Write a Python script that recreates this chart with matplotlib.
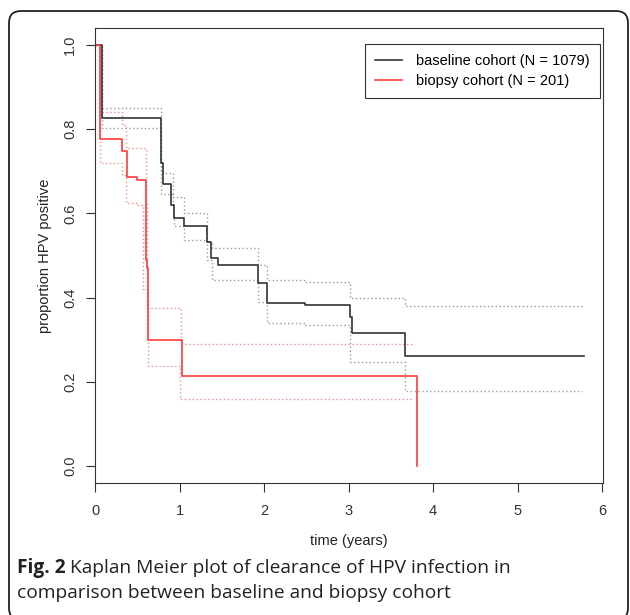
import matplotlib.pyplot as plt
from matplotlib.patches import FancyBboxPatch

# Kaplan-Meier estimates (time in years, proportion)
base_t = [0, 0.08, 0.776, 0.80, 0.905, 0.93, 1.05, 1.32, 1.378, 1.457, 1.93, 2.03, 2.48, 3.02, 3.035, 3.67, 5.78]
base_s = [1.0, 0.827, 0.72, 0.669, 0.62, 0.588, 0.569, 0.533, 0.494, 0.478, 0.435, 0.388, 0.382, 0.355, 0.317, 0.262, 0.262]

base_up_t = [0, 0.08, 0.776, 0.80, 0.92, 1.05, 1.32, 1.38, 1.93, 2.03, 2.48, 3.02, 3.67, 5.76]
base_up_s = [1.0, 0.85, 0.70, 0.695, 0.64, 0.60, 0.533, 0.518, 0.478, 0.443, 0.437, 0.40, 0.38, 0.38]
base_lo_t = [0, 0.08, 0.776, 0.92, 0.94, 1.05, 1.32, 1.38, 1.93, 2.03, 2.48, 3.02, 3.67, 5.76]
base_lo_s = [1.0, 0.803, 0.647, 0.60, 0.569, 0.537, 0.49, 0.441, 0.39, 0.34, 0.335, 0.248, 0.178, 0.178]

biop_t = [0, 0.06, 0.32, 0.38, 0.50, 0.60, 0.62, 0.63, 1.035, 3.81]
biop_s = [1.0, 0.777, 0.747, 0.687, 0.68, 0.49, 0.47, 0.299, 0.214, 0.0]

biop_up_t = [0, 0.06, 0.32, 0.37, 0.60, 0.62, 1.02, 3.76]
biop_up_s = [1.0, 0.84, 0.81, 0.755, 0.63, 0.376, 0.29, 0.29]
biop_lo_t = [0, 0.06, 0.32, 0.37, 0.50, 0.57, 0.63, 1.01, 3.76]
biop_lo_s = [1.0, 0.72, 0.69, 0.624, 0.62, 0.42, 0.238, 0.159, 0.159]

labels = ['baseline cohort (N = 1079)', 'biopsy cohort (N = 201)']
x_ticks = [0, 1, 2, 3, 4, 5, 6]
y_ticks = [0.0, 0.2, 0.4, 0.6, 0.8, 1.0]

plt.rcParams['font.family'] = ['Liberation Sans', 'DejaVu Sans']

fig = plt.figure(figsize=(6.3, 6.15), dpi=100)
ax = fig.add_axes([95 / 630, 1 - 483 / 615, 508 / 630, 455 / 615])

dark = '#333333'
red = '#ff3b3b'
fs = 10.5

# confidence bands first, dotted
ax.step(base_up_t, base_up_s, where='post', color='#9a9a9a', lw=1.0, ls=(0, (1, 1.8)))
ax.step(base_lo_t, base_lo_s, where='post', color='#9a9a9a', lw=1.0, ls=(0, (1, 1.8)))
ax.step(biop_up_t, biop_up_s, where='post', color='#ff8a8a', lw=1.0, ls=(0, (1, 1.8)))
ax.step(biop_lo_t, biop_lo_s, where='post', color='#ff8a8a', lw=1.0, ls=(0, (1, 1.8)))

ax.step(base_t, base_s, where='post', color=dark, lw=1.2, label=labels[0])
ax.step(biop_t, biop_s, where='post', color=red, lw=1.2, label=labels[1])

ax.set_xlim(0, 6.01)
ax.set_ylim(-0.04, 1.04)
ax.set_xticks(x_ticks)
ax.set_xticklabels([str(v) for v in x_ticks])
ax.set_yticks(y_ticks)
ax.set_yticklabels(['%.1f' % v for v in y_ticks], rotation=90, va='center')

ax.tick_params(direction='out', length=6.5, width=0.8, colors=dark, labelsize=fs)
ax.tick_params(axis='x', pad=8.5)
ax.tick_params(axis='y', pad=6.5)
for sp in ax.spines.values():
    sp.set_color(dark)
    sp.set_linewidth(0.8)

ax.set_xlabel('time (years)', fontsize=fs, color='#222222', labelpad=12)
ax.set_ylabel('proportion HPV positive', fontsize=fs, color='#222222', labelpad=8)

leg = ax.legend(loc='upper right', bbox_to_anchor=(0.994, 0.965), borderaxespad=0,
                fontsize=fs, fancybox=False, edgecolor=dark, framealpha=1,
                handlelength=1.85, handletextpad=0.95, borderpad=0.7, labelspacing=0.4)
leg.get_frame().set_linewidth(0.8)

# rounded outer border of the figure panel (bottom edge runs just off the image)
border = FancyBboxPatch((0.09, -0.05), 6.19, 6.09, boxstyle='round,pad=0,rounding_size=0.12',
                        transform=fig.dpi_scale_trans, fill=False, ec='#222222', lw=1.3)
fig.patches.append(border)

# caption: bold "Fig. 2" followed by regular text
cap_font = ['Open Sans', 'DejaVu Sans']
cap_fs = 13.8
t1 = fig.text(17 / 630, 1 - 568 / 615, 'Fig. 2', fontsize=cap_fs, fontweight='bold',
              family=cap_font, va='center', color='#222222')
fig.canvas.draw()
bb = t1.get_window_extent(fig.canvas.get_renderer())
fig.text(bb.x1 / fig.bbox.width + 0.007, 1 - 568 / 615,
         'Kaplan Meier plot of clearance of HPV infection in',
         fontsize=cap_fs, family=cap_font, va='center', color='#222222')
fig.text(17 / 630, 1 - 593 / 615, 'comparison between baseline and biopsy cohort',
         fontsize=cap_fs, family=cap_font, va='center', color='#222222')

fig.savefig('out.png', dpi=100)
